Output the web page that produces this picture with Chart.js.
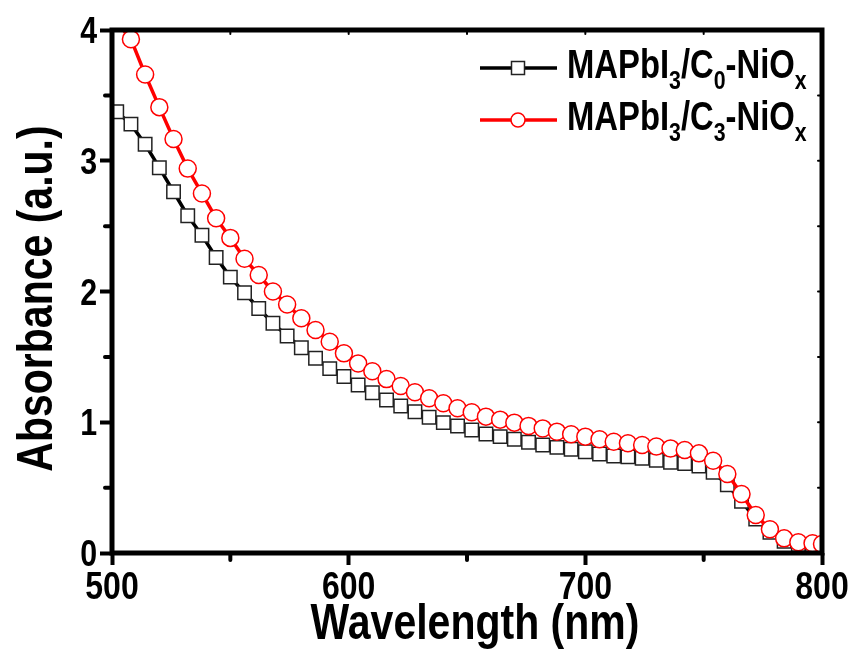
<!DOCTYPE html>
<html>
<head>
<meta charset="utf-8">
<script src="https://cdn.jsdelivr.net/npm/chart.js@4/dist/chart.umd.min.js"></script>
<style>
html, body { margin: 0; padding: 0; background: #fff; }
</style>
</head>
<body>
<canvas id="chart" width="855" height="656"></canvas>
<script>
var wavelengths = [502, 508, 514, 520, 526, 532, 538, 544, 550, 556,
    562, 568, 574, 580, 586, 592, 598, 604, 610, 616,
    622, 628, 634, 640, 646, 652, 658, 664, 670, 676,
    682, 688, 694, 700, 706, 712, 718, 724, 730, 736,
    742, 748, 754, 760, 766, 772, 778, 784, 790, 796, 800];

var absC0 = [3.375, 3.28, 3.126, 2.947, 2.763, 2.58, 2.43, 2.26, 2.11, 1.99,
    1.87, 1.757, 1.66, 1.57, 1.49, 1.41, 1.35, 1.285, 1.226, 1.17,
    1.124, 1.081, 1.038, 0.997, 0.971, 0.941, 0.91, 0.89, 0.87, 0.847,
    0.826, 0.808, 0.793, 0.775, 0.757, 0.742, 0.735, 0.724, 0.709, 0.694,
    0.685, 0.665, 0.617, 0.522, 0.395, 0.26, 0.158, 0.089, 0.064, 0.051, 0.048];

var absC3 = [4.06, 3.93, 3.66, 3.41, 3.166, 2.94, 2.75, 2.56, 2.41, 2.25,
    2.126, 2.0, 1.90, 1.795, 1.705, 1.616, 1.527, 1.45, 1.39, 1.33,
    1.277, 1.229, 1.183, 1.145, 1.107, 1.076, 1.043, 1.02, 0.997, 0.972,
    0.953, 0.928, 0.908, 0.89, 0.87, 0.851, 0.839, 0.826, 0.815, 0.80,
    0.788, 0.762, 0.706, 0.604, 0.451, 0.29, 0.181, 0.112, 0.082, 0.074, 0.069];

var xMinorTicks = [550, 650, 750];
var yMinorTicks = [0.5, 1.5, 2.5, 3.5];

var xTitle = 'Wavelength (nm)';
var yTitle = 'Absorbance (a.u.)';

// legend text pieces: [text, isSubscript]
var legendC0 = [['MAPbI', 0], ['3', 1], ['/C', 0], ['0', 1], ['-NiO', 0], ['x', 1]];
var legendC3 = [['MAPbI', 0], ['3', 1], ['/C', 0], ['3', 1], ['-NiO', 0], ['x', 1]];

// the figure uses a narrow bold sans; squeeze Liberation Sans to get it
var family = "'Liberation Sans', Arial, sans-serif";
var squeeze = 0.82;

function toPoints(xs, ys) {
    return xs.map(function (x, i) { return {x: x, y: ys[i]}; });
}

function narrowText(ctx, text, x, y, size, align, rot) {
    ctx.save();
    ctx.translate(x, y);
    if (rot) ctx.rotate(rot);
    ctx.scale(squeeze, 1);
    ctx.font = 'bold ' + size + 'px ' + family;
    ctx.textAlign = align;
    ctx.textBaseline = 'alphabetic';
    ctx.fillStyle = '#000';
    ctx.fillText(text, 0, 0);
    ctx.restore();
}

function narrowWidth(ctx, text, size) {
    ctx.save();
    ctx.font = 'bold ' + size + 'px ' + family;
    var w = ctx.measureText(text).width * squeeze;
    ctx.restore();
    return w;
}

var framePlugin = {
    id: 'frame',
    afterDraw: function (chart) {
        var ctx = chart.ctx;
        var a = chart.chartArea;
        var xs = chart.scales.x, ys = chart.scales.y;
        ctx.save();
        ctx.strokeStyle = '#000';
        ctx.lineCap = 'round';
        // minor ticks outside
        ctx.lineWidth = 4;
        xMinorTicks.forEach(function (v) {
            var px = xs.getPixelForValue(v);
            ctx.beginPath(); ctx.moveTo(px, a.bottom); ctx.lineTo(px, a.bottom + 7); ctx.stroke();
        });
        yMinorTicks.forEach(function (v) {
            var py = ys.getPixelForValue(v);
            ctx.beginPath(); ctx.moveTo(a.left, py); ctx.lineTo(a.left - 7, py); ctx.stroke();
        });
        // small inner ticks on top and right
        ctx.lineWidth = 2;
        [550, 600, 650, 700, 750].forEach(function (v) {
            var px = xs.getPixelForValue(v);
            ctx.beginPath(); ctx.moveTo(px, a.top); ctx.lineTo(px, a.top + 4); ctx.stroke();
        });
        [0.5, 1, 1.5, 2, 2.5, 3, 3.5].forEach(function (v) {
            var py = ys.getPixelForValue(v);
            ctx.beginPath(); ctx.moveTo(a.right, py); ctx.lineTo(a.right - 4, py); ctx.stroke();
        });
        // frame
        ctx.lineWidth = 5;
        ctx.lineCap = 'butt';
        ctx.strokeRect(a.left, a.top, a.right - a.left, a.bottom - a.top);

        // tick labels, from the scales' own ticks
        xs.ticks.forEach(function (t) {
            narrowText(ctx, String(t.value), xs.getPixelForValue(t.value), a.bottom + 46, 39, 'center');
        });
        ys.ticks.forEach(function (t) {
            narrowText(ctx, String(t.value), a.left - 15, ys.getPixelForValue(t.value) + 13, 37, 'right');
        });
        // axis titles
        narrowText(ctx, xTitle, (a.left + a.right) / 2 + 8, 639, 50, 'center');
        narrowText(ctx, yTitle, 52, (a.top + a.bottom) / 2 + 7, 50, 'center', -Math.PI / 2);

        // legend
        var rows = [
            {parts: legendC0, ds: chart.data.datasets[0], y: 68, base: 78},
            {parts: legendC3, ds: chart.data.datasets[1], y: 120, base: 130}
        ];
        rows.forEach(function (r) {
            ctx.strokeStyle = r.ds.borderColor;
            ctx.lineWidth = 3.5;
            ctx.beginPath(); ctx.moveTo(480, r.y); ctx.lineTo(557, r.y); ctx.stroke();
            ctx.fillStyle = '#fff';
            ctx.strokeStyle = r.ds.pointBorderColor;
            ctx.lineWidth = 1.5;
            ctx.beginPath();
            if (r.ds.pointStyle === 'rect') {
                ctx.rect(518 - 6.5, r.y - 6.5, 13, 13);
            } else {
                ctx.arc(518, r.y, 7, 0, Math.PI * 2);
            }
            ctx.fill(); ctx.stroke();
            var x = 567;
            r.parts.forEach(function (p) {
                var size = p[1] ? 26 : 40;
                narrowText(ctx, p[0], x, p[1] ? r.base + 11 : r.base, size, 'left');
                x += narrowWidth(ctx, p[0], size);
            });
        });
        ctx.restore();
    }
};

var ctx = document.getElementById('chart').getContext('2d');
var chart = new Chart(ctx, {
    type: 'line',
    data: {
        datasets: [{
            label: 'MAPbI3/C0-NiOx',
            data: toPoints(wavelengths, absC0),
            borderColor: '#000',
            borderWidth: 3.5,
            pointStyle: 'rect',
            pointRadius: 9.5,
            pointBorderWidth: 1.5,
            pointBorderColor: '#222',
            pointBackgroundColor: '#fff',
            tension: 0,
            clip: 0,
            order: 2
        }, {
            label: 'MAPbI3/C3-NiOx',
            data: toPoints(wavelengths, absC3),
            borderColor: '#ff0000',
            borderWidth: 3.5,
            pointStyle: 'circle',
            pointRadius: 8.5,
            pointBorderWidth: 1.5,
            pointBorderColor: '#ff0000',
            pointBackgroundColor: '#fff',
            tension: 0,
            clip: 0,
            order: 1
        }]
    },
    options: {
        responsive: false,
        animation: false,
        layout: {
            padding: {left: 3, top: 30, right: 33, bottom: 0}
        },
        plugins: {
            legend: {display: false},
            tooltip: {enabled: false}
        },
        scales: {
            x: {
                type: 'linear',
                min: 500,
                max: 800,
                afterFit: function (scale) { scale.height = 103; },
                ticks: {stepSize: 100, display: false},
                grid: {
                    drawOnChartArea: false,
                    drawTicks: true,
                    tickLength: 12,
                    tickWidth: 4,
                    tickColor: '#000'
                },
                border: {display: false},
                title: {display: false}
            },
            y: {
                min: 0,
                max: 4,
                afterFit: function (scale) { scale.width = 109; },
                ticks: {stepSize: 1, display: false},
                grid: {
                    drawOnChartArea: false,
                    drawTicks: true,
                    tickLength: 12,
                    tickWidth: 4,
                    tickColor: '#000'
                },
                border: {display: false},
                title: {display: false}
            }
        }
    },
    plugins: [framePlugin]
});
</script>
</body>
</html>
